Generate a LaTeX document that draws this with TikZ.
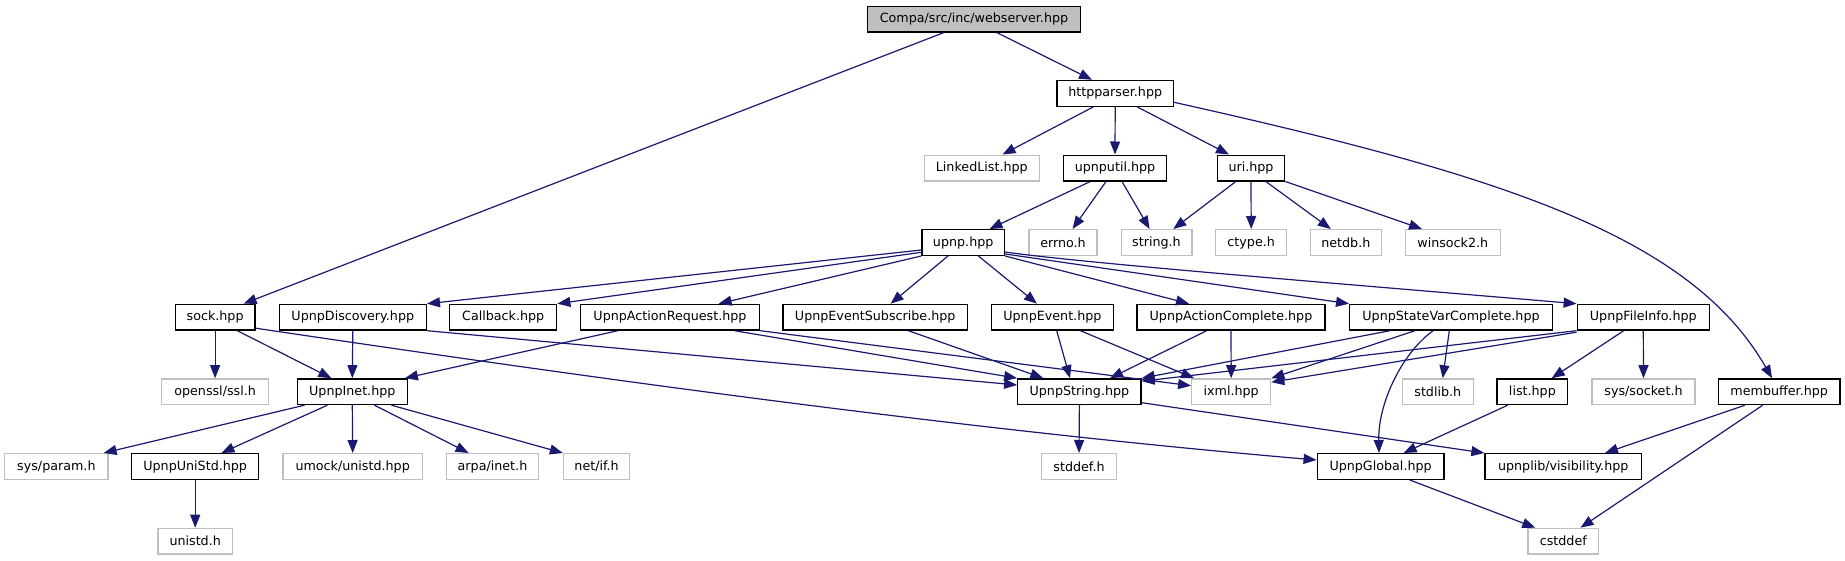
\documentclass[tikz,border=0pt]{standalone}
\usepackage{fontspec}
\setmainfont{DejaVu Sans}
\usetikzlibrary{arrows.meta}
\definecolor{edgeblue}{RGB}{25,25,112}
\definecolor{grayb}{RGB}{191,191,191}
\begin{document}
\begin{tikzpicture}[x=1pt,y=-1pt,
 box/.style={draw=black, line width=1.3pt, inner sep=0pt, minimum height=25.7pt, font=\fontsize{12.7}{15}\selectfont, text=black, fill=white},
 gbox/.style={box, draw=grayb},
 e/.style={draw=edgeblue, line width=1.2pt, -{Triangle[length=13pt,width=10pt]}}]
\useasboundingbox (0,0) rectangle (1845,560);
% row 0
\node[box, fill=grayb, minimum width=213.5pt] (web) at (974,19) {Compa/src/inc/webserver.hpp};
% row 1
\node[box, minimum width=116.3pt] (http) at (1115.2,93.3) {httpparser.hpp};
% row 2
\node[gbox, minimum width=115pt] (linked) at (981.8,168) {LinkedList.hpp};
\node[box, minimum width=102.4pt] (uputil) at (1115,168) {upnputil.hpp};
\node[box, minimum width=67.4pt] (uri) at (1251,168) {uri.hpp};
% row 3
\node[box, minimum width=82.6pt] (upnp) at (963.2,242.5) {upnp.hpp};
\node[gbox, minimum width=68pt] (errno) at (1063,242.5) {errno.h};
\node[gbox, minimum width=70.7pt] (string) at (1156.5,242.5) {string.h};
\node[gbox, minimum width=71.2pt] (ctype) at (1251.2,242.5) {ctype.h};
\node[gbox, minimum width=71.2pt] (netdb) at (1345.8,242.5) {netdb.h};
\node[gbox, minimum width=95pt] (winsock) at (1452.8,242.5) {winsock2.h};
% row 4
\node[box, minimum width=79.8pt] (sock) at (215.1,317.2) {sock.hpp};
\node[box, minimum width=147.1pt] (disc) at (352.8,317.2) {UpnpDiscovery.hpp};
\node[box, minimum width=107.1pt] (callback) at (503.2,317.2) {Callback.hpp};
\node[box, minimum width=178.9pt] (actreq) at (670,317.2) {UpnpActionRequest.hpp};
\node[box, minimum width=184.3pt] (evsub) at (875.2,317.2) {UpnpEventSubscribe.hpp};
\node[box, minimum width=121.8pt] (event) at (1052.4,317.2) {UpnpEvent.hpp};
\node[box, minimum width=188pt] (actcomp) at (1231,317.2) {UpnpActionComplete.hpp};
\node[box, minimum width=202.6pt] (statevar) at (1451,317.2) {UpnpStateVarComplete.hpp};
\node[box, minimum width=132.1pt] (fileinfo) at (1643.3,317.2) {UpnpFileInfo.hpp};
% row 5
\node[gbox, minimum width=106.8pt] (openssl) at (215.1,391.7) {openssl/ssl.h};
\node[box, minimum width=110pt] (inet) at (352.3,391.7) {UpnpInet.hpp};
\node[box, minimum width=123.3pt] (ustring) at (1079.4,391.7) {UpnpString.hpp};
\node[gbox, minimum width=79pt] (ixml) at (1231.2,391.7) {ixml.hpp};
\node[gbox, minimum width=70.7pt] (stdlib) at (1437.8,391.7) {stdlib.h};
\node[box, minimum width=70.8pt] (list) at (1532.4,391.7) {list.hpp};
\node[gbox, minimum width=102.9pt] (syssock) at (1643.5,391.7) {sys/socket.h};
\node[box, minimum width=121.7pt] (membuf) at (1779.2,391.7) {membuffer.hpp};
% row 6
\node[gbox, minimum width=103.3pt] (sysparam) at (56.4,466.5) {sys/param.h};
\node[box, minimum width=126.9pt] (unistdhpp) at (195.2,466.5) {UpnpUniStd.hpp};
\node[gbox, minimum width=139.2pt] (umock) at (352.7,466.5) {umock/unistd.hpp};
\node[gbox, minimum width=92.2pt] (arpa) at (492.5,466.5) {arpa/inet.h};
\node[gbox, minimum width=66.2pt] (netif) at (596.6,466.5) {net/if.h};
\node[gbox, minimum width=74.7pt] (stddef) at (1079,466.5) {stddef.h};
\node[box, minimum width=126.8pt] (uglobal) at (1380.6,466.5) {UpnpGlobal.hpp};
\node[box, minimum width=156.4pt] (visib) at (1563.2,466.5) {upnplib/visibility.hpp};
% row 7
\node[gbox, minimum width=74.7pt] (unistd) at (195.2,541.2) {unistd.h};
\node[gbox, minimum width=70.7pt] (cstddef) at (1563.3,541.2) {cstddef};
% edges
\draw[e] ([xshift=-30pt]web.south) -- ([xshift=28.5pt]sock.north);
\draw[e] ([xshift=22.6pt]web.south) -- ([xshift=-23.2pt]http.north);
\draw[e] ([xshift=-21.7pt]http.south) -- ([xshift=20.7pt]linked.north);
\draw[e] (http.south) -- (uputil.north);
\draw[e] ([xshift=21.8pt]http.south) -- ([xshift=-22pt]uri.north);
\draw[e] ([yshift=-9pt]http.east) .. controls (1500,175) and (1690,235) .. ([xshift=-7.2pt]membuf.north);
\draw[e] ([xshift=-24.7pt]uputil.south) -- ([xshift=26.3pt]upnp.north);
\draw[e] ([xshift=-9pt]uputil.south) -- ([xshift=9.5pt]errno.north);
\draw[e] ([xshift=7pt]uputil.south) -- ([xshift=-6.9pt]string.north);
\draw[e] ([xshift=-15.2pt]uri.south) -- ([xshift=16.8pt]string.north);
\draw[e] (uri.south) -- (ctype.north);
\draw[e] ([xshift=14.8pt]uri.south) -- ([xshift=-15pt]netdb.north);
\draw[e] (uri.south east) -- ([xshift=-30.8pt]winsock.north);
\draw[e] ([yshift=-7.5pt]upnp.west) -- (disc.north east);
\draw[e] ([yshift=-9.8pt]upnp.west) -- (callback.north east);
\draw[e] (upnp.south west) -- ([xshift=48.6pt]actreq.north);
\draw[e] ([xshift=-15.2pt]upnp.south) -- ([xshift=15.4pt]evsub.north);
\draw[e] ([xshift=15.2pt]upnp.south) -- ([xshift=-15.4pt]event.north);
\draw[e] (upnp.south east) -- ([xshift=-42pt]actcomp.north);
\draw[e] ([yshift=-11.5pt]upnp.east) -- (statevar.north west);
\draw[e] ([yshift=-9.5pt]upnp.east) .. controls (1080,263) and (1380,287) .. (fileinfo.north west);
\draw[e] (sock.south) -- (openssl.north);
\draw[e] ([xshift=22.2pt]sock.south) -- ([xshift=-20.9pt]inet.north);
\draw[e] ([yshift=-11pt]sock.east) .. controls (605,380) and (967,430) .. ([yshift=6.5pt]uglobal.west);
\draw[e] (disc.south) -- (inet.north);
\draw[e] (disc.south east) -- ([yshift=6.7pt]ustring.west);
\draw[e] ([xshift=-52.2pt]actreq.south) -- ([xshift=-3pt]inet.north east);
\draw[e] ([xshift=64.4pt]actreq.south) -- (ustring.north west);
\draw[e] (actreq.south east) -- ([yshift=6pt]ixml.west);
\draw[e] ([xshift=33.2pt]evsub.south) -- ([xshift=-36.1pt]ustring.north);
\draw[e] ([xshift=4.3pt]event.south) -- ([xshift=-9.4pt]ustring.north);
\draw[e] ([xshift=28pt]event.south) -- ([xshift=3pt]ixml.north west);
\draw[e] ([xshift=-24.3pt]actcomp.south) -- ([xshift=30.6pt]ustring.north);
\draw[e] (actcomp.south) -- (ixml.north);
\draw[e] ([xshift=-61pt]statevar.south) -- (ustring.north east);
\draw[e] ([xshift=-36pt]statevar.south) -- (ixml.north east);
\draw[e] ([xshift=-17.7pt]statevar.south) .. controls (1405,350) and (1378,400) .. ([xshift=-1.6pt]uglobal.north);
\draw[e] ([xshift=-1.7pt]statevar.south) -- ([xshift=4.9pt]stdlib.north);
\draw[e] (fileinfo.south west) -- ([yshift=-3pt]ustring.north east);
\draw[e] ([yshift=-1.5pt]fileinfo.south west) -- ([yshift=-4pt]ixml.north east);
\draw[e] ([xshift=-19.6pt]fileinfo.south) -- ([xshift=19.3pt]list.north);
\draw[e] (fileinfo.south) -- (syssock.north);
\draw[e] ([xshift=-34.2pt]membuf.south) -- ([xshift=41.8pt]visib.north);
\draw[e] ([xshift=-16.5pt]membuf.south) -- ([xshift=17.2pt]cstddef.north);
\draw[e] ([xshift=-24.7pt]list.south) -- ([xshift=23pt]uglobal.north);
\draw[e] ([xshift=-47.8pt]inet.south) -- ([xshift=47.2pt]sysparam.north);
\draw[e] ([xshift=-24.9pt]inet.south) -- ([xshift=26.2pt]unistdhpp.north);
\draw[e] (inet.south) -- (umock.north);
\draw[e] ([xshift=22.2pt]inet.south) -- ([xshift=-23.9pt]arpa.north);
\draw[e] ([xshift=39.2pt]inet.south) -- (netif.north west);
\draw[e] (unistdhpp.south) -- (unistd.north);
\draw[e] (ustring.south) -- (stddef.north);
\draw[e] ([yshift=-11pt]ustring.east) -- (visib.north west);
\draw[e] ([xshift=29.2pt]uglobal.south) -- ([xshift=-28pt]cstddef.north);
\end{tikzpicture}
\end{document}
